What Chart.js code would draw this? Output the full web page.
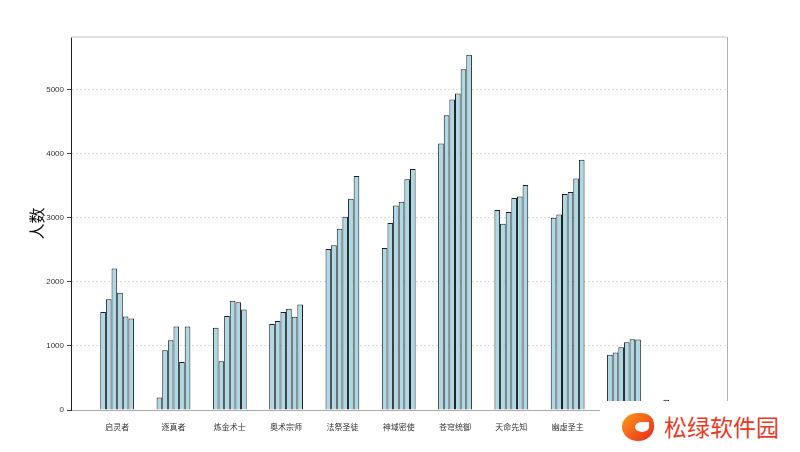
<!DOCTYPE html>
<html>
<head>
<meta charset="utf-8">
<script src="https://cdn.jsdelivr.net/npm/chart.js@4/dist/chart.umd.min.js"></script>
<style>
    html, body { margin: 0; padding: 0; background: #fff; }
    #wrap { position: relative; width: 800px; height: 452px; }
    #mark {
        position: absolute; left: 600px; top: 401px; width: 200px; height: 51px;
        background: #fff;
    }
    #mark .logo {
        position: absolute; left: 22px; top: 12px; width: 32px; height: 28px;
        border-radius: 50% 40% 50% 50%;
        background: linear-gradient(135deg, #ff9a1a, #e8261c);
    }
    #mark .logo:after {
        content: ''; position: absolute; left: 13px; top: 9px; width: 14px; height: 10px;
        background: #fff; border-radius: 50% 0 50% 50%;
    }
    #mark .txt {
        position: absolute; left: 64px; top: 10px;
        font-family: "Noto Sans CJK SC", sans-serif; font-size: 23px; line-height: 30px;
        color: #ea3a26; letter-spacing: 0px;
    }
</style>
</head>
<body>
<div id="wrap">
    <canvas id="graph-bar" width="800" height="452"></canvas>
    <!-- watermark that covers the lower right of the source picture -->
    <div id="mark"><div class="logo"></div><div class="txt">松绿软件园</div></div>
</div>
<script>
// last two category names are hidden under the watermark in the source
var categories = ['启灵者', '逐真者', '炼金术士', '奥术宗师', '法祭圣徒', '神域密使', '苍穹统御', '天命先知', '幽虚圣主', '', ''];

// one array per bar position inside each group
var series1 = [1530, 195, 1285, 1345, 2515, 2530, 4165, 3125, 3005, 865, 160];
var series2 = [1730, 935, 760, 1390, 2575, 2920, 4605, 2910, 3055, 900, 110];
var series3 = [2210, 1090, 1470, 1530, 2830, 3195, 4850, 3095, 3375, 980, 95];
var series4 = [1830, 1305, 1705, 1580, 3020, 3255, 4945, 3310, 3405, 1060, 140];
var series5 = [1460, 750, 1685, 1455, 3300, 3605, 5325, 3335, 3615, 1105, 80];
var series6 = [1430, 1305, 1570, 1650, 3655, 3765, 5550, 3515, 3910, 1100, 60];

var yTicks = [0, 1000, 2000, 3000, 4000, 5000];

createGraphBar();

function toPoints(values) {
    return values.map(function (v, i) { return { x: i, y: v }; });
}

function createGraphBar() {
    var ctx = document.getElementById('graph-bar').getContext('2d');

    var allSeries = [series1, series2, series3, series4, series5, series6];

    var data = {
        datasets: allSeries.map(function (s, k) {
            return {
                label: 'series' + (k + 1),
                data: toPoints(s),
                backgroundColor: '#add8e6',
                borderColor: '#1e1e1e',
                borderWidth: 1,
                categoryPercentage: 0.6,
                barPercentage: 1
            };
        })
    };

    // light frame on top and right like the source
    var frame = {
        id: 'frame',
        afterDraw: function (chart) {
            var a = chart.chartArea;
            var c = chart.ctx;
            c.save();
            c.strokeStyle = '#d4d4d4';
            c.lineWidth = 1.5;
            c.beginPath();
            c.moveTo(a.left, a.top);
            c.lineTo(a.right, a.top);
            c.stroke();
            c.strokeStyle = '#b0b0b0';
            c.lineWidth = 1;
            c.beginPath();
            c.moveTo(a.right + 0.5, a.top);
            c.lineTo(a.right + 0.5, a.bottom);
            c.stroke();
            c.restore();
        }
    };

    var options = {
        responsive: false,
        animation: false,
        layout: { padding: { top: 37, right: 73, bottom: 0, left: 0 } },
        plugins: {
            legend: { display: false },
            tooltip: { enabled: false }
        },
        scales: {
            x: {
                type: 'linear',
                min: -0.82,
                max: 10.83,
                offset: false,
                afterFit: function (s) { s.height = 42; },
                afterBuildTicks: function (s) {
                    s.ticks = categories.map(function (c, i) { return { value: i }; });
                },
                grid: { display: false, offset: false },
                border: { color: '#aaaaaa', width: 1 },
                ticks: {
                    autoSkip: false,
                    maxRotation: 0,
                    padding: 4,
                    color: '#333',
                    font: { family: '"Noto Sans CJK SC", sans-serif', size: 8 },
                    callback: function (v) { return categories[v]; }
                }
            },
            y: {
                min: 0,
                max: 5827,
                afterFit: function (s) { s.width = 71; },
                afterBuildTicks: function (s) {
                    s.ticks = yTicks.map(function (v) { return { value: v }; });
                },
                grid: {
                    color: '#d9d9d9',
                    lineWidth: 1,
                    tickColor: '#444',
                    tickLength: 4,
                    tickBorderDash: []
                },
                border: { color: '#222', width: 1, dash: [2, 2] },
                ticks: {
                    padding: 3,
                    color: '#333',
                    font: { family: '"Liberation Sans", sans-serif', size: 8 },
                    callback: function (v) { return String(v); }
                },
                title: {
                    display: true,
                    text: '人数',
                    color: '#111',
                    font: { family: '"Noto Sans CJK SC", sans-serif', size: 16 },
                    padding: { top: 27, bottom: 0 }
                }
            }
        }
    };

    var chart = new Chart(ctx, {
        type: 'bar',
        data: data,
        options: options,
        plugins: [frame]
    });
}
</script>
</body>
</html>
